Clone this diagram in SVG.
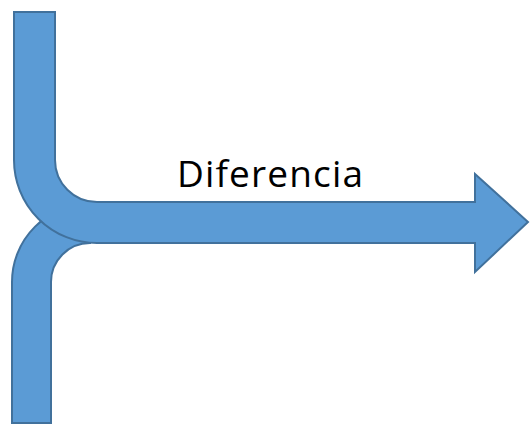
<svg xmlns="http://www.w3.org/2000/svg" width="530" height="425" viewBox="0 0 530 425">
<style>
.shape{fill:#5B9BD5;stroke:#41719C;stroke-width:2;stroke-linejoin:miter}
.lbl{font-family:"Open Sans","Liberation Sans",Arial,sans-serif;font-size:37px;fill:#000}
</style>
<rect width="530" height="425" fill="#fff"/>
<g id="connectors">
<g id="lower-branch">
<path class="shape" d="M 12 423 L 12 282 A 78 78 0 0 1 90 204 L 90 243 A 39 39 0 0 0 51 282 L 51 423 Z"/>
</g>
<g id="main-arrow">
<path class="shape" d="M 14 12 L 55 12 L 55 160 A 42 42 0 0 0 97 202 L 475 202 L 475 174 L 528 222 L 475 272 L 475 243 L 97 243 A 83 83 0 0 1 14 160 Z"/>
</g>
</g>
<g id="label">
<text class="lbl" x="270" y="187" text-anchor="middle" textLength="186" lengthAdjust="spacing">Diferencia</text>
</g>
</svg>
